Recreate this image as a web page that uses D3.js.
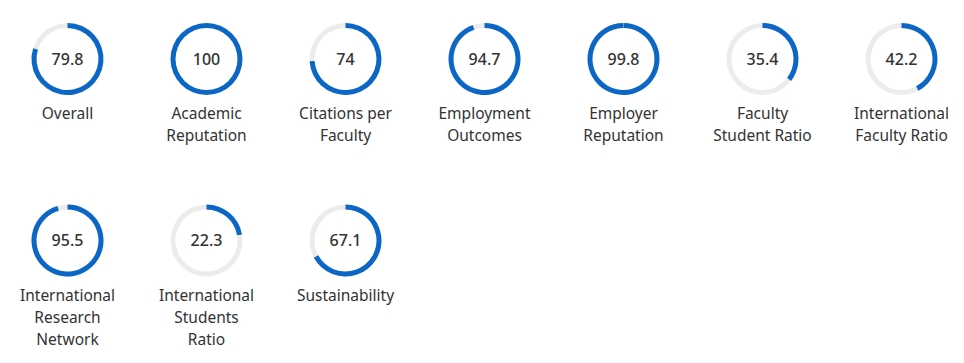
<!DOCTYPE html>
<html>
<head>
<meta charset="utf-8">
<script src="https://d3js.org/d3.v7.min.js"></script>
<style>
  body { margin: 0; background: #fff; }
  .value { font-family: "Noto Sans", sans-serif; font-weight: 500; font-size: 16px; fill: #333; }
  .label { font-family: "Noto Sans", sans-serif; font-weight: 400; font-size: 15.5px; fill: #333; }
</style>
</head>
<body>
<div id="chart"></div>
<script>
  // scores, in display order
  var labels = [
    ["Overall"],
    ["Academic", "Reputation"],
    ["Citations per", "Faculty"],
    ["Employment", "Outcomes"],
    ["Employer", "Reputation"],
    ["Faculty", "Student Ratio"],
    ["International", "Faculty Ratio"],
    ["International", "Research", "Network"],
    ["International", "Students", "Ratio"],
    ["Sustainability"]
  ];
  var scores = [79.8, 100, 74, 94.7, 99.8, 35.4, 42.2, 95.5, 22.3, 67.1];

  var width = 964, height = 363;
  var perRow = 7;
  var colX = d3.scaleLinear().domain([0, 1]).range([67.5, 206.5]);
  var rowY = d3.scaleLinear().domain([0, 1]).range([59, 240.5]);
  var angle = d3.scaleLinear().domain([0, 100]).range([0, 2 * Math.PI]);

  var r = 33.5, thick = 5;
  var arc = d3.arc()
    .innerRadius(r - thick / 2)
    .outerRadius(r + thick / 2)
    .startAngle(0);

  var svg = d3.select("#chart").append("svg")
    .attr("width", width)
    .attr("height", height);

  var data = scores.map(function (s, i) {
    return { score: s, label: labels[i], col: i % perRow, row: Math.floor(i / perRow) };
  });

  var g = svg.selectAll("g.gauge")
    .data(data)
    .enter().append("g")
    .attr("class", "gauge")
    .attr("transform", function (d) {
      return "translate(" + [colX(d.col), rowY(d.row)] + ")";
    });

  // grey track
  g.append("path")
    .attr("d", function () { return arc({ endAngle: 2 * Math.PI }); })
    .attr("fill", "#ececec");

  // blue score arc
  g.append("path")
    .attr("d", function (d) { return arc({ endAngle: angle(d.score) }); })
    .attr("fill", "#0b66c6");

  g.append("text")
    .attr("class", "value")
    .attr("text-anchor", "middle")
    .attr("dy", "0.36em")
    .text(function (d) { return d.score; });

  g.each(function (d) {
    var t = d3.select(this);
    d.label.forEach(function (line, j) {
      t.append("text")
        .attr("class", "label")
        .attr("text-anchor", "middle")
        .attr("x", 0)
        .attr("y", 60 + j * 22)
        .text(line);
    });
  });
</script>
</body>
</html>
